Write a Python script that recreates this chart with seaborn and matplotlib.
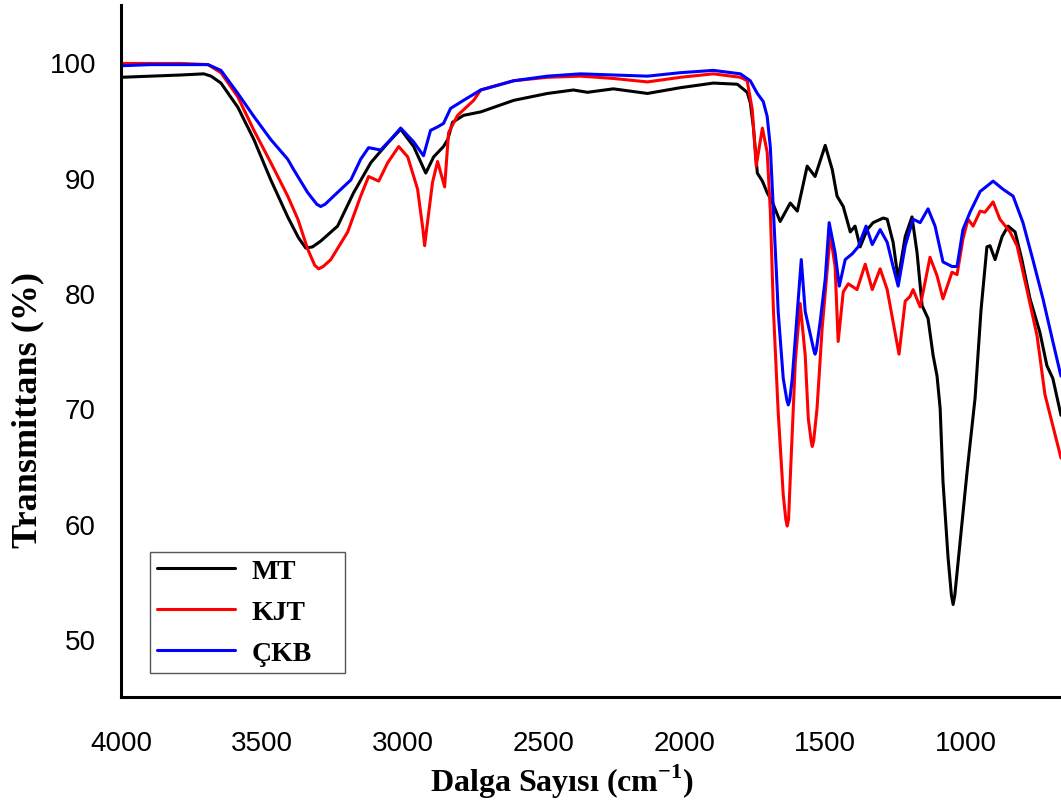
import pandas as pd
import matplotlib
matplotlib.use("Agg")
import matplotlib.pyplot as plt
import seaborn as sns

# FTIR spectra (wavenumber, transmittance %)
mt_wn = [4000, 3894, 3787, 3706, 3680, 3645, 3585, 3528, 3468, 3408, 3370, 3344, 3320,
         3291, 3231, 3174, 3113, 3053, 3007, 2961, 2918, 2890, 2855, 2840, 2823, 2784,
         2723, 2606, 2486, 2394, 2344, 2252, 2131, 2014, 1897, 1812, 1777, 1766, 1755,
         1741, 1723, 1706, 1688, 1660, 1624, 1599, 1564, 1536, 1500, 1475, 1458, 1436,
         1411, 1394, 1376, 1351, 1330, 1294, 1280, 1259, 1241, 1216, 1192, 1174, 1156,
         1135, 1117, 1103, 1092, 1082, 1064, 1052, 1046, 1040, 1029, 996, 968, 947, 926,
         915, 897, 872, 851, 826, 802, 773, 738, 713, 692, 663]
mt_t = [98.7, 98.8, 98.9, 99.0, 98.8, 98.2, 96.1, 93.3, 89.8, 86.6, 84.8, 83.9, 84.0,
        84.5, 85.8, 88.7, 91.3, 93.0, 94.2, 92.7, 90.4, 91.8, 92.7, 93.3, 94.8, 95.4,
        95.7, 96.7, 97.3, 97.6, 97.4, 97.7, 97.3, 97.8, 98.2, 98.1, 97.4, 96.5, 94.4,
        90.4, 89.7, 88.7, 87.9, 86.2, 87.8, 87.1, 91.0, 90.1, 92.8, 90.7, 88.4, 87.5,
        85.3, 85.8, 84.0, 85.5, 86.1, 86.5, 86.4, 84.4, 81.2, 84.9, 86.6, 83.5, 78.9,
        77.8, 74.6, 72.8, 70.0, 63.7, 57.1, 53.8, 53.0, 53.8, 56.5, 64.6, 70.9, 78.5, 84.0,
        84.1, 82.9, 84.9, 85.8, 85.3, 82.9, 79.5, 76.6, 73.7, 72.6, 69.4]

kjt_wn = [4000, 3894, 3787, 3691, 3645, 3585, 3528, 3468, 3408, 3372, 3337, 3312, 3298,
          3282, 3255, 3195, 3149, 3121, 3085, 3053, 3014, 2982, 2947, 2928, 2922, 2915,
          2894, 2876, 2851, 2837, 2805, 2748, 2723, 2606, 2486, 2369, 2252, 2131, 2014,
          1897, 1801, 1777, 1759, 1745, 1723, 1706, 1695, 1684, 1667, 1649, 1640, 1635,
          1630, 1624, 1606, 1589, 1571, 1560, 1550, 1546, 1541, 1529, 1511, 1482, 1465,
          1454, 1436, 1418, 1387, 1358, 1333, 1305, 1280, 1259, 1238, 1216, 1199, 1188,
          1163, 1128, 1103, 1082, 1050, 1032, 1011, 993, 975, 950, 933, 904, 880, 844,
          819, 784, 748, 720, 663]
kjt_t = [99.9, 99.9, 99.9, 99.8, 99.1, 97.0, 94.1, 91.3, 88.4, 86.4, 83.8, 82.4, 82.1,
         82.3, 82.9, 85.3, 88.4, 90.1, 89.7, 91.3, 92.7, 91.8, 89.0, 85.5, 84.1, 85.5,
         89.6, 91.4, 89.2, 93.9, 95.4, 96.7, 97.6, 98.4, 98.7, 98.8, 98.6, 98.3, 98.7,
         99.0, 98.7, 98.4, 95.9, 91.0, 94.3, 92.2, 87.2, 78.6, 69.7, 62.5, 60.4, 59.8,
         60.4, 64.0, 74.1, 79.1, 74.6, 69.1, 67.2, 66.7, 67.2, 70.0, 76.9, 85.1, 82.3,
         75.8, 80.1, 80.8, 80.3, 82.5, 80.3, 82.1, 80.3, 77.5, 74.7, 79.3, 79.7, 80.3,
         78.8, 83.1, 81.5, 79.5, 81.8, 81.6, 84.7, 86.4, 85.8, 87.1, 87.0, 87.9, 86.4,
         85.3, 84.1, 80.3, 76.3, 71.2, 65.7]

ckb_wn = [4000, 3894, 3787, 3691, 3645, 3585, 3528, 3468, 3408, 3387, 3337, 3305, 3291,
          3275, 3245, 3184, 3149, 3121, 3078, 3043, 3007, 2961, 2926, 2901, 2876, 2855,
          2830, 2784, 2723, 2606, 2486, 2369, 2252, 2131, 2014, 1897, 1801, 1766, 1741,
          1720, 1706, 1695, 1684, 1670, 1667, 1649, 1636, 1631, 1626, 1617, 1585, 1571,
          1540, 1536, 1532, 1518, 1500, 1486, 1465, 1450, 1429, 1404, 1383, 1355, 1333,
          1305, 1280, 1259, 1241, 1216, 1188, 1163, 1135, 1110, 1082, 1050, 1032, 1011,
          986, 950, 904, 869, 833, 798, 763, 727, 692, 667, 663]
ckb_t = [99.7, 99.8, 99.8, 99.8, 99.3, 97.3, 95.3, 93.3, 91.6, 90.7, 88.7, 87.7, 87.5,
         87.7, 88.4, 89.8, 91.6, 92.6, 92.4, 93.3, 94.3, 93.1, 91.9, 94.1, 94.4, 94.7,
         96.0, 96.7, 97.6, 98.4, 98.8, 99.0, 98.9, 98.8, 99.1, 99.3, 99.0, 98.4, 97.3,
         96.6, 95.3, 92.7, 87.2, 80.1, 78.4, 72.6, 70.7, 70.3, 70.7, 72.6, 82.9, 78.4,
         75.0, 74.7, 75.0, 77.5, 81.2, 86.1, 83.5, 80.6, 82.9, 83.4, 84.0, 85.8, 84.2,
         85.5, 84.4, 82.3, 80.6, 84.1, 86.4, 86.1, 87.3, 85.8, 82.7, 82.3, 82.3, 85.5,
         87.0, 88.8, 89.7, 89.0, 88.4, 86.1, 82.9, 79.5, 75.8, 73.2, 72.8]

samples = ["MT", "KJT", "ÇKB"]
colors = ["black", "red", "blue"]
x_ticks = [4000, 3500, 3000, 2500, 2000, 1500, 1000]
y_ticks = [50, 60, 70, 80, 90, 100]

df = pd.concat([
    pd.DataFrame({"wn": mt_wn, "T": mt_t, "sample": "MT"}),
    pd.DataFrame({"wn": kjt_wn, "T": kjt_t, "sample": "KJT"}),
    pd.DataFrame({"wn": ckb_wn, "T": ckb_t, "sample": "ÇKB"}),
])

sns.set_style("white")
plt.rcParams["font.family"] = ["Liberation Sans", "DejaVu Sans"]
plt.rcParams["text.color"] = "black"
plt.rcParams["axes.labelcolor"] = "black"
plt.rcParams["xtick.color"] = "black"
plt.rcParams["ytick.color"] = "black"
plt.rcParams["mathtext.fontset"] = "custom"
plt.rcParams["mathtext.rm"] = "Liberation Serif:bold"
plt.rcParams["mathtext.bf"] = "Liberation Serif:bold"

fig = plt.figure(figsize=(10.61, 8.03), dpi=100)
ax = fig.add_axes([0.114, 0.131, 0.886, 0.862])

sns.lineplot(data=df, x="wn", y="T", hue="sample", hue_order=samples,
             palette=colors, estimator=None, linewidth=2.2, ax=ax)

ax.set_xlim(4000, 663)
ax.set_ylim(45, 105)
ax.set_xticks(x_ticks)
ax.set_yticks(y_ticks)
ax.tick_params(axis="x", length=0, labelsize=20, pad=24, colors="black")
ax.tick_params(axis="y", length=0, labelsize=20, pad=18, colors="black")

for side in ["top", "right"]:
    ax.spines[side].set_visible(False)
for side in ["left", "bottom"]:
    ax.spines[side].set_linewidth(2.2)
    ax.spines[side].set_color("black")

ax.set_xlabel("Dalga Sayısı (cm$^{-1}$)", family="Liberation Serif",
              weight="bold", size=23, color="black")
ax.set_ylabel("Transmittans (%)", family="Liberation Serif",
              weight="bold", size=26, color="black")
ax.xaxis.set_label_coords(0.469, -0.094)
ax.yaxis.set_label_coords(-0.082, 0.416)

leg = ax.legend(loc="lower left", bbox_to_anchor=(0.031, 0.035, 0.207, 0.2),
                mode="expand", borderaxespad=0, borderpad=0.25,
                handlelength=2.8, handletextpad=0.6, labelspacing=0.55,
                prop={"family": "Liberation Serif", "weight": "bold", "size": 20},
                fancybox=False, framealpha=1, edgecolor="#555555")
leg.get_frame().set_linewidth(1.0)
for t in leg.get_texts():
    t.set_color("black")

fig.savefig("out.png", dpi=100)
